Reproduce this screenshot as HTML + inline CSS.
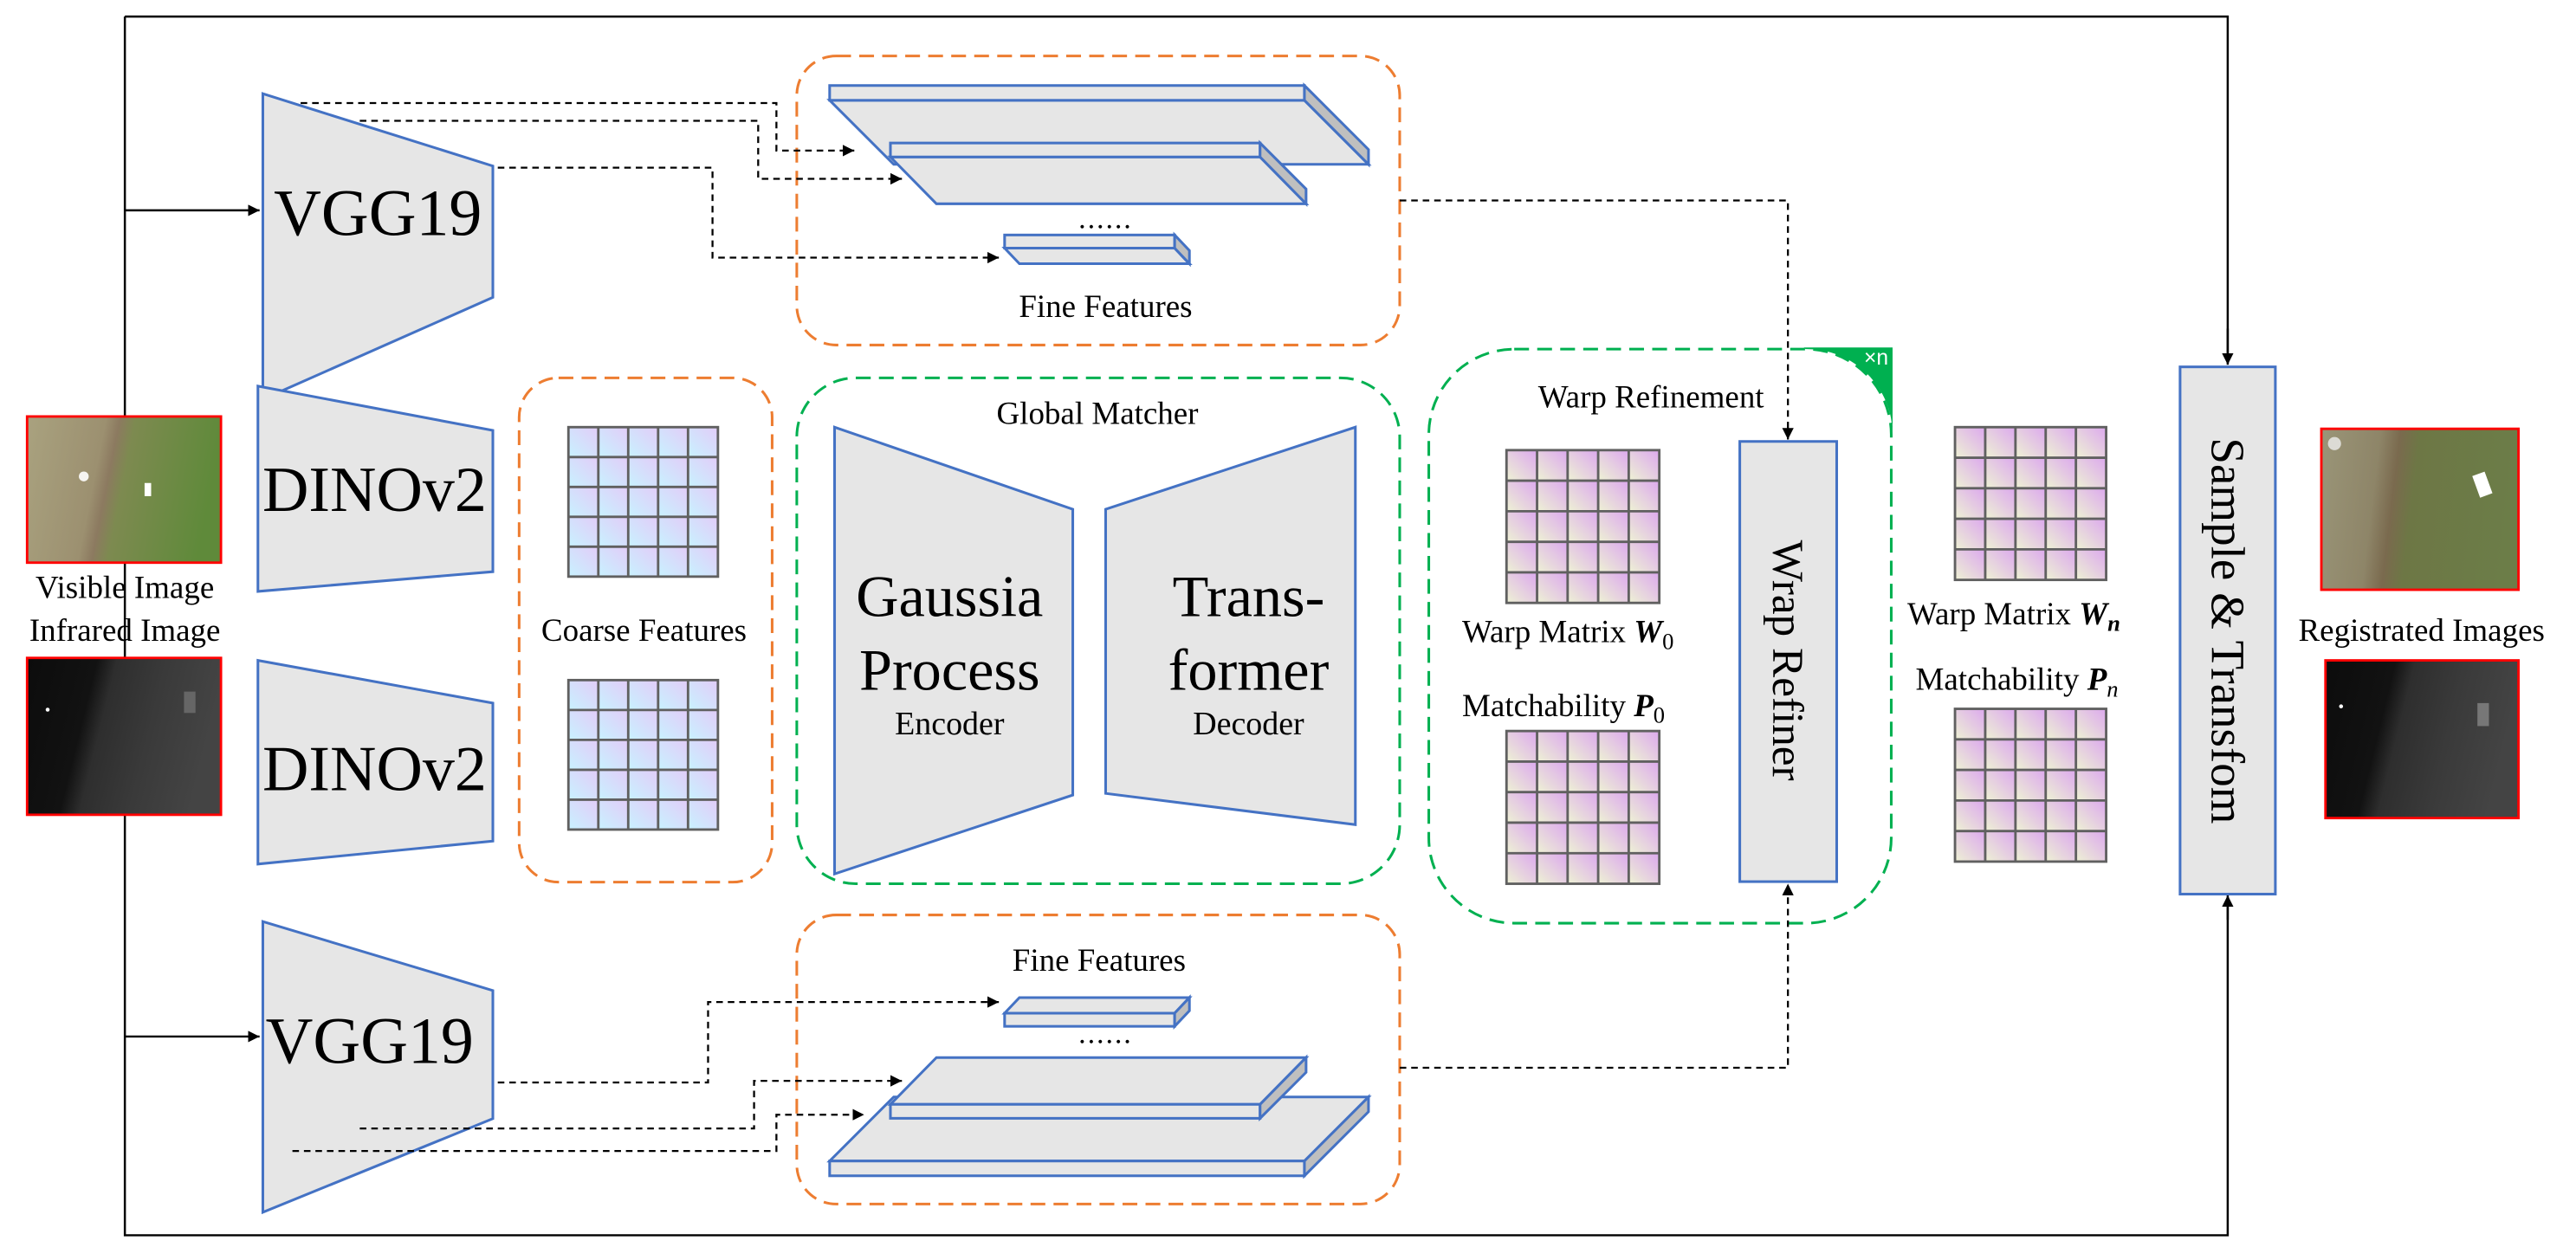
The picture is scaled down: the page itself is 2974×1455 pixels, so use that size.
<!DOCTYPE html>
<html><head><meta charset="utf-8"><style>
html,body{margin:0;padding:0;background:#fff;}
svg{display:block;}
text{font-family:"Liberation Serif",serif;fill:#000;}
</style></head><body>
<svg width="2974" height="1455" viewBox="0 0 1568 767" xmlns="http://www.w3.org/2000/svg">
<defs>
<linearGradient id="gc" x1="1" y1="0" x2="0" y2="1"><stop offset="0" stop-color="#e2ccf8"/><stop offset="1" stop-color="#c8f2ff"/></linearGradient>
<linearGradient id="gw" x1="1" y1="0" x2="0" y2="1"><stop offset="0" stop-color="#dca8ee"/><stop offset="1" stop-color="#eef2d4"/></linearGradient>
<pattern id="pc" width="0.2" height="0.2" patternContentUnits="objectBoundingBox"><rect width="0.2" height="0.2" fill="url(#gc)"/></pattern>
<pattern id="pw" width="0.2" height="0.2" patternContentUnits="objectBoundingBox"><rect width="0.2" height="0.2" fill="url(#gw)"/></pattern>
<marker id="ar" viewBox="0 0 10 10" refX="10" refY="5" markerWidth="7" markerHeight="7" orient="auto" markerUnits="userSpaceOnUse"><path d="M0,0 L10,5 L0,10 Z" fill="#000"/></marker>
<linearGradient id="vis" x1="0" y1="0" x2="1" y2="0.15"><stop offset="0" stop-color="#a9a27f"/><stop offset="0.4" stop-color="#9c9070"/><stop offset="0.47" stop-color="#8c7a60"/><stop offset="0.55" stop-color="#7d8a50"/><stop offset="1" stop-color="#5f8a3a"/></linearGradient>
<linearGradient id="ir" x1="0" y1="0" x2="1" y2="0.2"><stop offset="0" stop-color="#0c0c0c"/><stop offset="0.35" stop-color="#121212"/><stop offset="0.45" stop-color="#2e2e2e"/><stop offset="0.7" stop-color="#3a3a3a"/><stop offset="1" stop-color="#444"/></linearGradient>
<linearGradient id="vis2" x1="0" y1="0" x2="1" y2="0.1"><stop offset="0" stop-color="#9a9578"/><stop offset="0.3" stop-color="#8e8568"/><stop offset="0.4" stop-color="#7a6a4e"/><stop offset="0.5" stop-color="#6d7745"/><stop offset="1" stop-color="#6c7d48"/></linearGradient>
</defs>

<!-- frame -->
<g stroke="#000" stroke-width="1.3" fill="none">
<path d="M76,10 H1356 V221"/>
<path d="M76,10 V752 H1356 V546"/>
<path d="M76,128 H158" marker-end="url(#ar)"/>
<path d="M76,631 H158" marker-end="url(#ar)"/>
<path d="M1356,200 V222" marker-end="url(#ar)"/>
<path d="M1356,560 V545" marker-end="url(#ar)"/>
</g>

<!-- input images -->
<rect x="16.5" y="253.5" width="118" height="89" fill="url(#vis)" stroke="#f00" stroke-width="1.5"/>
<circle cx="51" cy="290" r="3" fill="#fff" opacity="0.9"/>
<rect x="88" y="294" width="4" height="8" fill="#fff"/>
<rect x="16.5" y="400.5" width="118" height="95.5" fill="url(#ir)" stroke="#f00" stroke-width="1.5"/>
<rect x="112" y="421" width="7" height="13" fill="#666"/>
<circle cx="29" cy="432" r="1.2" fill="#fff"/>
<text x="76" y="364" font-size="19.5" text-anchor="middle">Visible Image</text>
<text x="76" y="390" font-size="19.5" text-anchor="middle">Infrared Image</text>

<!-- encoders -->
<g fill="#e6e6e6" stroke="#4472c4" stroke-width="1.6">
<polygon points="160,57 300,101 300,181 160,243"/>
<polygon points="157,235 300,262 300,348 157,360"/>
<polygon points="157,402 300,428 300,512 157,526"/>
<polygon points="160,561 300,603 300,681 160,738"/>
<polygon points="508,260 653,310 653,484 508,532"/>
<polygon points="673,310 825,260 825,502 673,483"/>
<rect x="1059" y="268.7" width="59" height="268" />
<rect x="1327" y="223.3" width="58" height="321"/>
</g>
<text x="230" y="143" font-size="40" text-anchor="middle">VGG19</text>
<text x="228" y="311" font-size="39" text-anchor="middle">DINOv2</text>
<text x="228" y="481" font-size="39" text-anchor="middle">DINOv2</text>
<text x="225" y="647" font-size="40" text-anchor="middle">VGG19</text>

<!-- boxes -->
<g fill="none" stroke-width="1.6" stroke-dasharray="9,5">
<rect x="485" y="34" width="367" height="176" rx="24" stroke="#ed7d31"/>
<rect x="485" y="557" width="367" height="176" rx="24" stroke="#ed7d31"/>
<rect x="316" y="230" width="154" height="307" rx="24" stroke="#ed7d31"/>
<rect x="485" y="230" width="367" height="308" rx="36" stroke="#00b050"/>
<rect x="869.7" y="212.5" width="281.5" height="349.5" rx="52" stroke="#00b050"/>
</g>
<path d="M1098,211.5 L1152,211.5 L1152,265 A52,52 0 0 0 1099,212.5 Z" fill="#00b050"/>
<text x="1142" y="222" font-size="13" style="fill:#fff;font-family:'Liberation Sans',sans-serif" text-anchor="middle">×n</text>

<!-- coarse grids -->
<g stroke="#606060" stroke-width="1.5">
<rect x="346" y="260" width="91" height="91" fill="url(#pc)"/>
<path d="M364.2,260V351M382.4,260V351M400.6,260V351M418.8,260V351M346,278.2H437M346,296.4H437M346,314.6H437M346,332.8H437" fill="none"/>
<rect x="346" y="414" width="91" height="91" fill="url(#pc)"/>
<path d="M364.2,414V505M382.4,414V505M400.6,414V505M418.8,414V505M346,432.2H437M346,450.4H437M346,468.6H437M346,486.8H437" fill="none"/>
</g>
<text x="392" y="390" font-size="19.5" text-anchor="middle">Coarse Features</text>

<!-- global matcher text -->
<text x="668" y="258" font-size="19.5" text-anchor="middle">Global Matcher</text>
<text x="578" y="375" font-size="36" text-anchor="middle">Gaussia</text>
<text x="578" y="420" font-size="36" text-anchor="middle">Process</text>
<text x="578" y="447" font-size="20" text-anchor="middle">Encoder</text>
<text x="760" y="375" font-size="36" text-anchor="middle">Trans-</text>
<text x="760" y="420" font-size="36" text-anchor="middle">former</text>
<text x="760" y="447" font-size="20" text-anchor="middle">Decoder</text>

<!-- slabs top -->
<g id="slabs" fill="#e6e6e6" stroke="#4472c4" stroke-width="1.6" stroke-linejoin="miter">
<polygon points="505,61 794,61 833,100 544,100"/>
<rect x="505" y="52" width="289" height="9"/>
<polygon points="794,52 833,91 833,100 794,61" fill="#bfbfbf"/>
<polygon points="542,95.5 767,95.5 795,124 570,124"/>
<rect x="542" y="87" width="225" height="8.5"/>
<polygon points="767,87 795,115 795,124 767,95.5" fill="#bfbfbf"/>
<polygon points="611.5,151 715,151 724,160.5 620.5,160.5"/>
<rect x="611.5" y="143" width="103.5" height="8"/>
<polygon points="715,143 724,152.5 724,160.5 715,151" fill="#bfbfbf"/>
</g>
<use href="#slabs" transform="translate(0,767.8) scale(1,-1)"/>
<text x="673" y="139" font-size="18" text-anchor="middle" letter-spacing="1">......</text>
<text x="673" y="193" font-size="19.5" text-anchor="middle">Fine Features</text>
<text x="673" y="635" font-size="18" text-anchor="middle" letter-spacing="1">......</text>
<text x="669" y="591" font-size="19.5" text-anchor="middle">Fine Features</text>

<!-- dashed arrows -->
<g stroke="#000" stroke-width="1.2" fill="none" stroke-dasharray="4,3">
<path d="M183,62.7 H472.6 V91.6 H520" marker-end="url(#ar)"/>
<path d="M219,73.5 H461.5 V108.8 H549" marker-end="url(#ar)"/>
<path d="M303,102 H433.7 V156.8 H608" marker-end="url(#ar)"/>
<path d="M303,659 H431 V610 H608" marker-end="url(#ar)"/>
<path d="M219,687 H459 V658 H549" marker-end="url(#ar)"/>
<path d="M178,700.7 H472.6 V678.6 H526" marker-end="url(#ar)"/>
<path d="M852,122 H1088.3 V267.5" marker-end="url(#ar)"/>
<path d="M852,650 H1088.3 V538" marker-end="url(#ar)"/>
</g>

<!-- warp refinement -->
<text x="1005" y="248" font-size="19.5" text-anchor="middle">Warp Refinement</text>
<g stroke="#606060" stroke-width="1.5">
<rect x="917" y="274" width="93" height="93" fill="url(#pw)"/>
<path d="M935.6,274V367M954.2,274V367M972.8,274V367M991.4,274V367M917,292.6H1010M917,311.2H1010M917,329.8H1010M917,348.4H1010" fill="none"/>
<rect x="917" y="445" width="93" height="93" fill="url(#pw)"/>
<path d="M935.6,445V538M954.2,445V538M972.8,445V538M991.4,445V538M917,463.6H1010M917,482.2H1010M917,500.8H1010M917,519.4H1010" fill="none"/>
<rect x="1190" y="260" width="92" height="93" fill="url(#pw)"/>
<path d="M1208.4,260V353M1226.8,260V353M1245.2,260V353M1263.6,260V353M1190,278.6H1282M1190,297.2H1282M1190,315.8H1282M1190,334.4H1282" fill="none"/>
<rect x="1190" y="431.5" width="92" height="93" fill="url(#pw)"/>
<path d="M1208.4,431.5V524.5M1226.8,431.5V524.5M1245.2,431.5V524.5M1263.6,431.5V524.5M1190,450.1H1282M1190,468.7H1282M1190,487.3H1282M1190,505.9H1282" fill="none"/>
</g>
<text x="890" y="391" font-size="19.5">Warp Matrix <tspan font-weight="bold" font-style="italic">W</tspan><tspan font-size="14" dy="4">0</tspan></text>
<text x="890" y="436" font-size="19.5">Matchability  <tspan font-weight="bold" font-style="italic">P</tspan><tspan font-size="14" dy="4">0</tspan></text>
<text x="1161" y="380" font-size="19.5">Warp Matrix <tspan font-weight="bold" font-style="italic">W</tspan><tspan font-size="14" dy="4" font-weight="bold" font-style="italic">n</tspan></text>
<text x="1166" y="420" font-size="19.5">Matchability  <tspan font-weight="bold" font-style="italic">P</tspan><tspan font-size="14" dy="4" font-style="italic">n</tspan></text>

<text transform="translate(1088,402) rotate(90)" font-size="27" text-anchor="middle" dominant-baseline="central">Wrap Refiner</text>
<text transform="translate(1356,384) rotate(90)" font-size="29" text-anchor="middle" dominant-baseline="central">Sample &amp; Transfom</text>

<!-- registered images -->
<rect x="1413" y="261" width="120" height="98" fill="url(#vis2)" stroke="#f00" stroke-width="1.5"/>
<circle cx="1421" cy="270" r="4" fill="#eee" opacity="0.8"/>
<rect x="1507" y="288" width="8" height="14" fill="#fff" transform="rotate(-20 1511 295)"/>
<rect x="1415.5" y="402" width="117.5" height="96" fill="url(#ir)" stroke="#f00" stroke-width="1.5"/>
<rect x="1508" y="428" width="7" height="14" fill="#777"/>
<circle cx="1425" cy="430" r="1.2" fill="#fff"/>
<text x="1474" y="390" font-size="19.5" text-anchor="middle">Registrated Images</text>
</svg>
</body></html>
